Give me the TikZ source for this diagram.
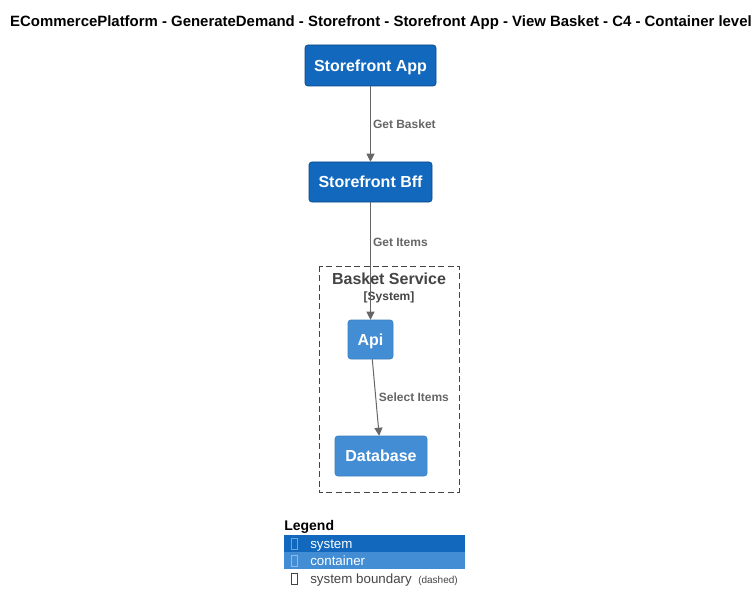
\documentclass[tikz,border=0pt]{standalone}
\usepackage{fontspec}
\setmainfont{Liberation Sans}
\usetikzlibrary{arrows.meta,positioning}
\definecolor{sysblue}{HTML}{1168BD}
\definecolor{sysedge}{HTML}{0B4884}
\definecolor{contblue}{HTML}{438DD5}
\definecolor{contedge}{HTML}{3C7FC0}
\definecolor{relgrey}{HTML}{666666}
\definecolor{bndgrey}{HTML}{444444}
\begin{document}
\begin{tikzpicture}[x=0.75pt,y=-0.75pt,
    system/.style={draw=sysedge, fill=sysblue, rounded corners=2pt, text=white,
        font=\bfseries\fontsize{12}{14}\selectfont, inner sep=0pt, text depth=0pt},
    container/.style={draw=contedge, fill=contblue, rounded corners=2pt, text=white,
        font=\bfseries\fontsize{12}{14}\selectfont, inner sep=0pt, text depth=0pt},
    rel/.style={draw=relgrey, line width=0.75pt, -{Triangle[length=6pt,width=6pt]}},
    rellabel/.style={text=relgrey, font=\bfseries\fontsize{9}{11}\selectfont, inner sep=1.5pt},
    legrow/.style={minimum width=135.75pt, minimum height=12.75pt, inner sep=0pt},
    legtext/.style={anchor=base west, inner sep=0pt, font=\fontsize{10}{12}\selectfont},
    glyph/.style={draw=#1, line width=0.4pt, minimum width=4.5pt, minimum height=8.5pt, inner sep=0pt}]
    \useasboundingbox (0,0) rectangle (756,613);

    % title
    \node[anchor=base, inner sep=0pt, font=\bfseries\fontsize{11.2}{13}\selectfont] (title) at (381,26.5)
        {ECommercePlatform - GenerateDemand - Storefront - Storefront App - View Basket - C4 - Container level};

    % system boundary
    \draw[bndgrey, line width=0.6pt, dash pattern=on 4.5pt off 2.5pt] (319,266) rectangle (459,492);
    \node[text=bndgrey, font=\bfseries\fontsize{12}{14}\selectfont, inner sep=0pt] (bndname) at (389,279) {Basket Service};
    \node[text=bndgrey, font=\bfseries\fontsize{9}{11}\selectfont, inner sep=0pt] (bndtype) at (389,297) {[System]};

    % elements
    \node[system, minimum width=98.25pt, minimum height=30.75pt] (app) at (370.5,65.5) {Storefront App};
    \node[system, minimum width=92.25pt, minimum height=30pt] (bff) at (370.5,182) {Storefront Bff};
    \node[container, minimum width=33.75pt, minimum height=29.25pt] (api) at (370.5,339.5) {Api};
    \node[container, minimum width=69pt, minimum height=30pt] (db) at (381,456) {Database};

    % relations
    \draw[rel] (app) -- node[rellabel, right] {Get Basket} (bff);
    \draw[rel] (bff) -- node[rellabel, right, pos=0.34] {Get Items} (api);
    \draw[rel] (api) -- node[rellabel, right, inner sep=2pt] {Select Items} (db);

    % legend
    \node[anchor=base west, inner sep=0pt, font=\bfseries\fontsize{10.5}{12}\selectfont] (legend) at (284,530.5) {Legend};
    \node[legrow, fill=sysblue] (legsys) at (374.5,543.5) {};
    \node[legrow, fill=contblue] (legcont) at (374.5,560.5) {};
    \node[legrow] (legbnd) at (374.5,578) {};
    \node[glyph=contblue!80!white] (gsys) at (294.5,544) {};
    \node[glyph=contblue!60!white] (gcont) at (294.5,561) {};
    \node[glyph=bndgrey] (gbnd) at (294.5,578.5) {};
    \node[legtext, text=white] (tsys) at (310,548.5) {system};
    \node[legtext, text=white] (tcont) at (310,565.5) {container};
    \node[legtext, text=bndgrey] (tbnd) at (310,583.5)
        {system boundary {\fontsize{7.5}{9}\selectfont\ (dashed)}};
\end{tikzpicture}
\end{document}
